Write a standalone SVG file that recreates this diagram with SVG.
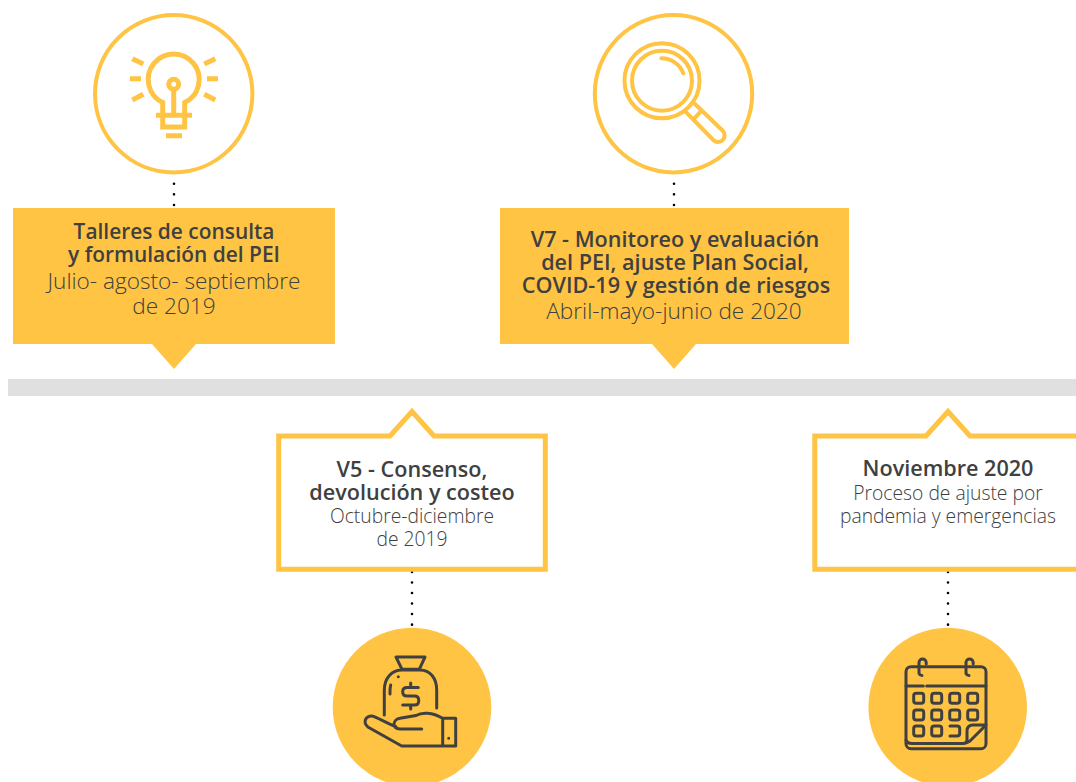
<svg xmlns="http://www.w3.org/2000/svg" width="1076" height="782" viewBox="0 0 1076 782">
<style>
text{font-family:"Open Sans","Noto Sans","Liberation Sans",sans-serif;text-anchor:middle;fill:#404040}
.t{font-size:21.6px;font-weight:600}
.t1{font-size:20.9px;font-weight:600}
.s{font-size:22.6px;font-weight:300}
.m{font-size:19.3px;font-weight:300}
.fill{fill:#FFC444}
.ring{fill:#fff;stroke:#FFC444;stroke-width:4}
.box{fill:#fff;stroke:#FFC444;stroke-width:5}
.iy{fill:none;stroke:#FFC444;stroke-width:4;stroke-linecap:round}
.ib{fill:none;stroke:#FFC444;stroke-width:5;stroke-linecap:butt}
.id{fill:none;stroke:#404040;stroke-width:3;stroke-linecap:round;stroke-linejoin:round}
.dots{stroke:#000;stroke-width:2.6;stroke-linecap:round;fill:none}
</style>
<rect id="timeline" x="8" y="379" width="1068" height="17" fill="#DFE0DF"/>
<g id="connectors" class="dots">
<path d="M174 183.7V205M174 205V208" stroke-dasharray="0 10.65"/>
<path d="M674 183.7V205M674 205V207" stroke-dasharray="0 10.65"/>
<path d="M412 572V624.7M412 624.7V627" stroke-dasharray="0 10.5"/>
<path d="M948 572V624.7M948 624.7V627" stroke-dasharray="0 10.5"/>
</g>
<g id="node-talleres">
<circle class="ring" cx="173.7" cy="93.7" r="78.7"/>
<path class="ib" d="M162.7 127V102.5A25.5 25.5 0 1 1 184.7 102.5V127ZM156 115.3H192M166 135.7H182M130 78.7H141M207 78.7H218M132.3 58.7L143.3 64M132.3 100L143.3 94.3M215.3 58.7L204.3 64M215.3 100L204.3 94.3"/>
<circle class="ib" cx="173.7" cy="84.3" r="5" stroke-width="4.5"/>
<path class="ib" d="M173.7 90V115" stroke-width="4"/>
<path class="fill" d="M13 208H335V344H196L174 369L152 344H13Z"/>
<text class="t1" x="174" y="238.5">Talleres de consulta</text>
<text class="t1" x="174" y="262">y formulación del PEI</text>
<text class="s" x="174" y="288.5">Julio- agosto- septiembre</text>
<text class="s" x="174" y="313.5">de 2019</text>
</g>
<g id="node-v7">
<circle class="ring" cx="673.5" cy="93.7" r="78.7"/>
<circle class="iy" cx="662" cy="80.7" r="37.5"/>
<circle class="iy" cx="662" cy="80.7" r="30"/>
<path class="iy" d="M661.3 58.3C671 58.3 680 64 683.3 73.3M686.5 112.7L713.3 140A6.6 6.6 0 0 0 722.7 130.7L695 104M694.3 118.3L701.8 110.3"/>
<path class="fill" d="M500 208H849V344H696L674 369L652 344H500Z"/>
<text class="t" x="675" y="247">V7 - Monitoreo y evaluación</text>
<text class="t" x="675" y="270">del PEI, ajuste Plan Social,</text>
<text class="t" x="676" y="293">COVID-19 y gestión de riesgos</text>
<text class="s" x="674" y="318.5">Abril-mayo-junio de 2020</text>
</g>
<g id="node-v5">
<path class="box" d="M278.7 436H390L412 411.5L434 436H545.3V569.3H278.7Z"/>
<text class="t" x="412" y="476.5">V5 - Consenso,</text>
<text class="t" x="412" y="499.5">devolución y costeo</text>
<text class="m" x="412" y="522.5">Octubre-diciembre</text>
<text class="m" x="412" y="545.5">de 2019</text>
<circle class="fill" cx="412" cy="707" r="79.3"/>
<path class="id" d="M396 657H425L419.3 669.3H402ZM384.3 715V690C384.3 678 392 670 402 670H420C430 670 436.7 678 436.7 690V708M390 694Q389.7 689 390.7 685M398.3 676.7h.01M418.3 687.5H407Q402.7 687.5 402.7 691.5V692Q402.7 696 407 696H414.5Q418.7 696 418.7 700V701Q418.7 705 414.5 705H402.7M410.7 683V687M410.7 705V709M442.7 718.3H455.7V746H442.7ZM442.7 718.3C432 712 422 712 416 715.5L400 718.3C393 719 391 729 400 729H421.7M442.7 746H401.7L368.3 727.3C362 722 366 716 371.7 716C375 716 390 725 396 726.7M448.7 738.3h.01"/>
</g>
<g id="node-noviembre">
<path class="box" d="M814.8 436H926L948 411.5L970 436H1081V569.3H814.8Z"/>
<text class="t" x="948" y="476">Noviembre 2020</text>
<text class="m" x="948" y="499.5">Proceso de ajuste por</text>
<text class="m" x="948" y="522.5">pandemia y emergencias</text>
<circle class="fill" cx="947.7" cy="707" r="79.3"/>
<g class="id">
<rect x="906" y="666.7" width="80" height="82" rx="5"/>
<path d="M906 686H923.3M926.7 686H986M919 673.5V662.5a3.6 3.6 0 0 1 7.2 0V664M919 673.5Q920 675.5 922 675.5M966 673.5V662.5a3.6 3.6 0 0 1 7.2 0V664M966 673.5Q967 675.5 969 675.5"/>
<rect x="913.7" y="693.3" width="10" height="10" rx="2.5"/><rect x="931.7" y="693.3" width="10" height="10" rx="2.5"/><rect x="949.7" y="693.3" width="10" height="10" rx="2.5"/><rect x="967.7" y="693.3" width="10" height="10" rx="2.5"/>
<rect x="913.7" y="710" width="10" height="10" rx="2.5"/><rect x="931.7" y="710" width="10" height="10" rx="2.5"/><rect x="949.7" y="710" width="10" height="10" rx="2.5"/><rect x="967.7" y="710" width="10" height="10" rx="2.5"/>
<rect x="913.7" y="726" width="10" height="10" rx="2.5"/><rect x="931.7" y="726" width="10" height="10" rx="2.5"/>
<path d="M950 726H957Q959.7 726 959.7 728.5V733.5Q959.7 736 957 736H950M985 725H973Q967 725 967 731V740Q967 743.5 963 743.5H912Q907 743.5 906 740M964 743.5Q967 743 970 741L986 725"/>
</g>
</g>
</svg>
